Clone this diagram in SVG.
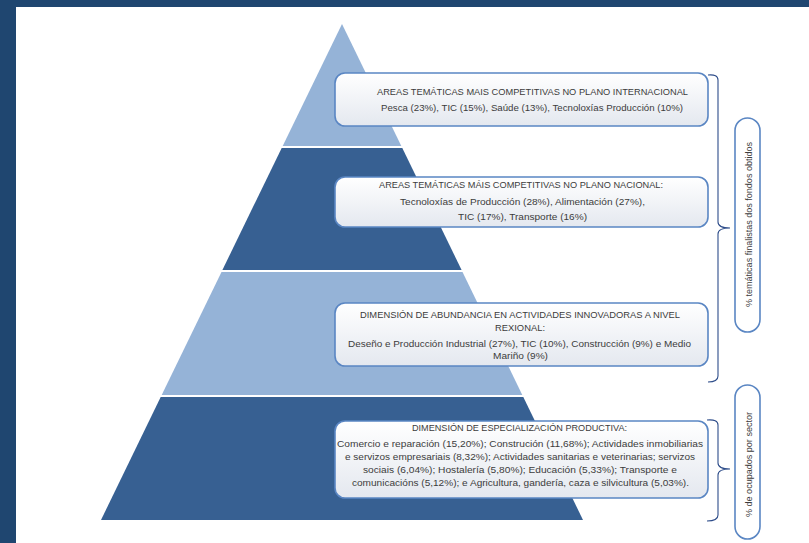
<svg xmlns="http://www.w3.org/2000/svg" width="809" height="543" viewBox="0 0 809 543">
<style>
.light{fill:#95B3D7}
.dark{fill:#376092}
.box{fill:url(#boxg);stroke:#5A86C3;stroke-width:1.6}
.vbox{fill:#FFFFFF;stroke:#5A86C3;stroke-width:1.6}
.t{font-family:"Liberation Sans",Arial,sans-serif;font-size:9.5px;fill:#3C3C3C;text-anchor:middle}
.v{font-family:"Liberation Sans",Arial,sans-serif;font-size:9px;fill:#3C3C3C;text-anchor:middle}
.br{fill:none;stroke:#2E4D8A;stroke-width:1.1}
</style>
<defs>
<linearGradient id="boxg" x1="0" y1="0" x2="0" y2="1">
<stop offset="0" stop-color="#FFFFFF"/>
<stop offset="1" stop-color="#E4E8EF"/>
</linearGradient>
</defs>
<rect x="0" y="0" width="809" height="543" fill="#FFFFFF"/>
<g id="frame">
<rect x="0" y="0" width="809" height="7" fill="#1F4670"/>
<rect x="0" y="0" width="16" height="543" fill="#1F4670"/>
</g>
<g id="pyramid">
<polygon class="light" points="342,24 401.3,146 282.7,146"/>
<polygon class="dark" points="281.7,148 402.3,148 461.6,270 222.4,270"/>
<polygon class="light" points="221.5,272 462.5,272 522.3,395 161.7,395"/>
<polygon class="dark" points="160.7,397 523.3,397 583,520 101,520"/>
</g>
<g id="box1">
<rect class="box" x="335" y="73" width="373" height="53" rx="10"/>
<text class="t" x="532.5" y="95" textLength="311" lengthAdjust="spacingAndGlyphs">AREAS TEMÁTICAS MAIS COMPETITIVAS NO PLANO INTERNACIONAL</text>
<text class="t" x="532" y="111" textLength="302" lengthAdjust="spacingAndGlyphs">Pesca (23%), TIC (15%), Saúde (13%), Tecnoloxías Producción (10%)</text>
</g>
<g id="box2">
<rect class="box" x="335" y="177" width="373" height="50" rx="10"/>
<text class="t" x="521" y="188" textLength="284" lengthAdjust="spacingAndGlyphs">AREAS TEMÁTICAS MÁIS COMPETITIVAS NO PLANO NACIONAL:</text>
<text class="t" x="522.5" y="205" textLength="245" lengthAdjust="spacingAndGlyphs">Tecnoloxías de Producción (28%), Alimentación (27%),</text>
<text class="t" x="522.5" y="220" textLength="129" lengthAdjust="spacingAndGlyphs">TIC (17%), Transporte  (16%)</text>
</g>
<g id="box3">
<rect class="box" x="335" y="303" width="373" height="63" rx="10"/>
<text class="t" x="520" y="318" textLength="320" lengthAdjust="spacingAndGlyphs">DIMENSIÓN DE ABUNDANCIA EN ACTIVIDADES INNOVADORAS A NIVEL</text>
<text class="t" x="520" y="331" textLength="50" lengthAdjust="spacingAndGlyphs">REXIONAL:</text>
<text class="t" x="519.5" y="347" textLength="343" lengthAdjust="spacingAndGlyphs">Deseño e Producción Industrial (27%), TIC (10%), Construcción (9%) e Medio</text>
<text class="t" x="520.5" y="359" textLength="55" lengthAdjust="spacingAndGlyphs">Mariño (9%)</text>
</g>
<g id="box4">
<rect class="box" x="335" y="421" width="373" height="77" rx="10"/>
<text class="t" x="519.5" y="431" textLength="215" lengthAdjust="spacingAndGlyphs">DIMENSIÓN DE ESPECIALIZACIÓN PRODUCTIVA:</text>
<text class="t" x="520" y="447" textLength="366" lengthAdjust="spacingAndGlyphs">Comercio e reparación (15,20%); Construción (11,68%); Actividades inmobiliarias</text>
<text class="t" x="520" y="460" textLength="350" lengthAdjust="spacingAndGlyphs">e servizos empresariais (8,32%); Actividades sanitarias e veterinarias; servizos</text>
<text class="t" x="520" y="473" textLength="314" lengthAdjust="spacingAndGlyphs">sociais (6,04%); Hostalería (5,80%); Educación (5,33%); Transporte e</text>
<text class="t" x="520.5" y="486" textLength="337" lengthAdjust="spacingAndGlyphs">comunicacións (5,12%); e Agricultura, gandería, caza e silvicultura (5,03%).</text>
</g>
<g id="connectors">
<path class="br" d="M708,75 Q718,74 718,80 L718,222 Q718,228 730,228 Q718,228 718,234 L718,376 Q718,382 708,382"/>
<path class="br" d="M707,420 Q718,419 718,425 L718,463 Q718,469 730,469 Q718,469 718,475 L718,515 Q718,521 707,521"/>
</g>
<g id="label1">
<rect class="vbox" x="735" y="118" width="25" height="214" rx="12.5"/>
<text class="v" transform="translate(752,224.5) rotate(-90)" x="0" y="0" textLength="165" lengthAdjust="spacingAndGlyphs">% temáticas finalistas dos fondos  obtidos</text>
</g>
<g id="label2">
<rect class="vbox" x="735" y="385" width="25" height="154" rx="12.5"/>
<text class="v" transform="translate(752,464.5) rotate(-90)" x="0" y="0" textLength="105" lengthAdjust="spacingAndGlyphs">% de ocupados  por sector</text>
</g>
</svg>
